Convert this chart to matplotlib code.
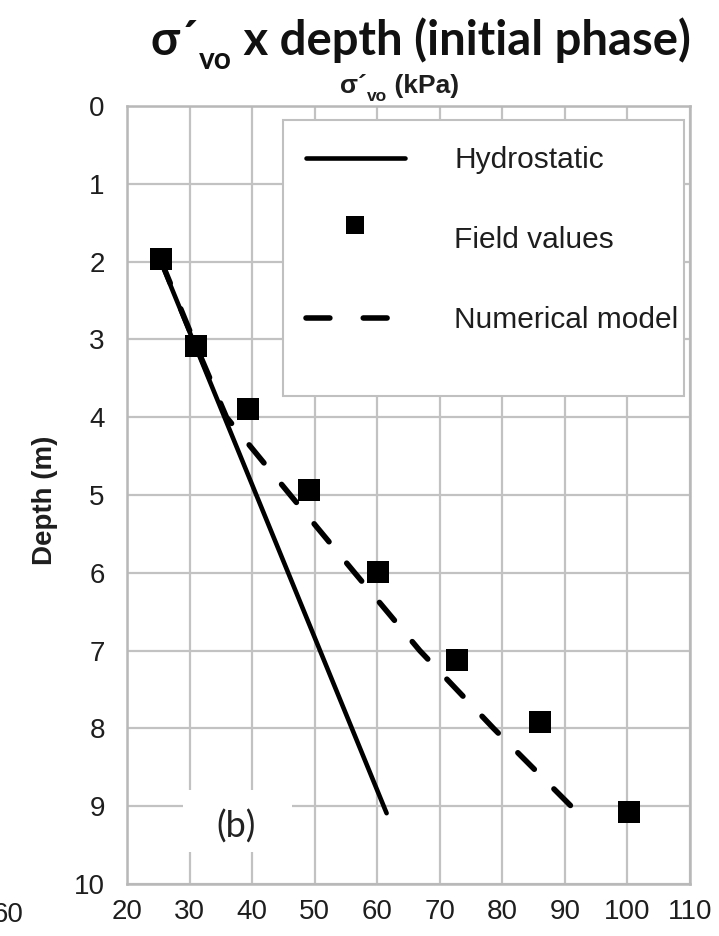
import matplotlib
matplotlib.use('Agg')
import matplotlib.pyplot as plt
from matplotlib import font_manager
from matplotlib.patches import Rectangle
from matplotlib.legend_handler import HandlerLine2D
from matplotlib.transforms import ScaledTranslation

names = {f.name for f in font_manager.fontManager.ttflist}
ARIAL = 'Liberation Sans'
TITLE = 'Lato' if 'Lato' in names else 'DejaVu Sans'

# ---- data ----
depth_ticks = [0, 1, 2, 3, 4, 5, 6, 7, 8, 9, 10]
stress_ticks = [20, 30, 40, 50, 60, 70, 80, 90, 100, 110]

hydro_stress = [25.4, 61.5]
hydro_depth = [2.0, 9.09]

field_stress = [25.4, 31.1, 39.3, 49.1, 60.1, 72.7, 86.1, 100.3]
field_depth = [1.97, 3.08, 3.89, 4.93, 5.99, 7.12, 7.92, 9.08]

model_stress = [25.5, 30.6, 35.9, 46.1, 56.4, 66.8, 78.6, 91.0, 92.2]
model_depth = [2.0, 3.0, 4.0, 5.0, 6.0, 7.0, 8.0, 9.0, 9.1]

labels = ['Hydrostatic', 'Field values', 'Numerical model']

# ---- figure ----
fig = plt.figure(figsize=(7.19, 9.36), dpi=100)
ax = fig.add_axes([127 / 719, 52 / 936, 563 / 719, 778 / 936])
ax.set_xlim(20, 110)
ax.set_ylim(10, 0)
ax.set_xticks(stress_ticks)
ax.set_yticks(depth_ticks)
ax.set_axisbelow(True)
ax.grid(True, color='#c2c2c2', linewidth=1.6)
for s in ax.spines.values():
    s.set_color('#b8b8b8')
    s.set_linewidth(1.8)
ax.tick_params(length=0, labelsize=20, colors='#1e1e1e', labelfontfamily=ARIAL)
ax.tick_params(axis='y', pad=16)
ax.tick_params(axis='x', pad=11)

l1, = ax.plot(hydro_stress, hydro_depth, color='black', lw=3.3, solid_capstyle='round', zorder=3)
l2, = ax.plot(field_stress, field_depth, linestyle='none', marker='s', ms=15.5,
              color='black', mec='black', mew=0, zorder=4)
l3, = ax.plot(model_stress, model_depth, color='black', lw=4.0,
              linestyle=(0, (4.2, 5.0)), dash_capstyle='round', zorder=3)


class UpHandler(HandlerLine2D):
    def create_artists(self, legend, orig_handle, xdescent, ydescent, width, height,
                       fontsize, trans):
        arts = super().create_artists(legend, orig_handle, xdescent, ydescent, width,
                                      height, fontsize, trans)
        off = ScaledTranslation(0, 0.13, fig.dpi_scale_trans)
        for a in arts:
            a.set_transform(a.get_transform() + off)
        return arts


# legend frame (drawn separately) and legend entries
ax.add_patch(Rectangle((0.277, 0.627), 0.712, 0.355, transform=ax.transAxes,
                       facecolor='white', edgecolor='#c0c0c0', lw=1.5, zorder=5))
leg = ax.legend([l1, l2, l3], labels, loc='upper left', bbox_to_anchor=(0.318, 0.948),
                frameon=False, borderpad=0, borderaxespad=0, handlelength=3.3,
                handletextpad=1.67, labelspacing=1.74, markerscale=0.86,
                handler_map={l2: UpHandler()},
                prop={'family': ARIAL, 'size': 21.5})
leg.set_zorder(6)
leg.legend_handles[2].set_linestyle((0, (4.3, 6.0)))
for t in leg.get_texts():
    t.set_color('#1e1e1e')

# (b) label with white patch covering the grid
ax.add_patch(Rectangle((0.0995, 0.041), 0.194, 0.080, transform=ax.transAxes,
                       facecolor='white', edgecolor='none', zorder=1))
ax.text(0.194, 0.074, '(b)', transform=ax.transAxes, ha='center', va='center',
        fontsize=26, family=TITLE, color='#222222', zorder=6)

# y label
fig.text(45 / 719, 1 - 500 / 936, 'Depth (m)', rotation=90, ha='center', va='center',
         fontsize=20, fontweight='bold', family=ARIAL, color='#1e1e1e')

# partially visible tick label from the neighbouring panel
fig.text(24 / 719, 1 - 915 / 936, '60', ha='right', va='center', fontsize=20,
         family=ARIAL, color='#1e1e1e')


def chain(parts, x, y, family, weight, color):
    """parts: list of (text, size, dy_points)"""
    first = None
    prev = None
    for txt, size, dy in parts:
        if first is None:
            first = fig.text(x, y, txt, ha='left', va='baseline', fontsize=size,
                             family=family, fontweight=weight, color=color)
            prev = first
        else:
            a = fig.add_artist(matplotlib.text.Annotation(
                txt, xy=(1, 0), xycoords=(prev, first), xytext=(0, dy),
                textcoords='offset points', ha='left', va='bottom', fontsize=size,
                family=family, fontweight=weight, color=color))
            prev = a
    return first


# title
chain([('σ´', 34, 0), ('vo', 21.5, -8), (' x depth (initial phase)', 34, 0)],
      151 / 719, 1 - 55 / 936, TITLE, 'bold', '#111111')
# top axis label
chain([('σ´', 19, 0), ('vo', 12.5, -4), (' (kPa)', 19, 0)],
      340 / 719, 1 - 93 / 936, ARIAL, 'bold', '#1e1e1e')

fig.savefig('out.png', dpi=100)
